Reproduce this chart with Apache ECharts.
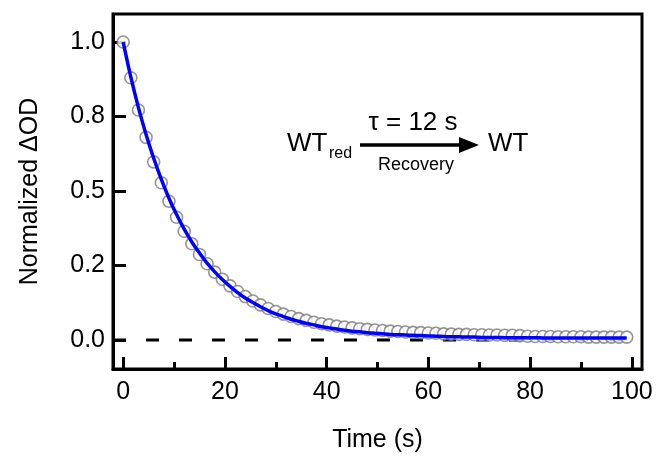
<!DOCTYPE html>
<html>
<head>
<meta charset="utf-8">
<script src="https://cdn.jsdelivr.net/npm/echarts@6/dist/echarts.min.js"></script>
<style>html,body{margin:0;padding:0;background:#fff}#c{width:657px;height:461px}</style>
</head>
<body>
<div id="c"></div>
<script>
const times = [0,1.5,3,4.5,6,7.5,9,10.5,12,13.5,15,16.5,18,19.5,21,22.5,24,25.5,27,28.5,30,31.5,33,34.5,36,37.5,39,40.5,42,43.5,45,46.5,48,49.5,51,52.5,54,55.5,57,58.5,60,61.5,63,64.5,66,67.5,69,70.5,72,73.5,75,76.5,78,79.5,81,82.5,84,85.5,87,88.5,90,91.5,93,94.5,96,97.5,99];
const observed = [1.000,0.880,0.772,0.680,0.598,0.528,0.466,0.412,0.365,0.323,0.287,0.256,0.228,0.204,0.182,0.163,0.146,0.131,0.118,0.106,0.096,0.087,0.079,0.072,0.066,0.060,0.055,0.051,0.047,0.044,0.041,0.038,0.036,0.034,0.032,0.030,0.029,0.027,0.026,0.025,0.024,0.023,0.021,0.020,0.019,0.019,0.018,0.018,0.017,0.017,0.016,0.016,0.015,0.013,0.012,0.012,0.012,0.011,0.011,0.011,0.011,0.010,0.010,0.010,0.010,0.010,0.010];
const fitted = [1.000,0.883,0.780,0.690,0.610,0.539,0.476,0.421,0.372,0.329,0.292,0.258,0.229,0.203,0.180,0.159,0.141,0.126,0.112,0.099,0.088,0.079,0.070,0.063,0.056,0.051,0.045,0.041,0.037,0.033,0.030,0.028,0.025,0.023,0.021,0.019,0.018,0.017,0.016,0.015,0.014,0.013,0.012,0.011,0.011,0.010,0.010,0.009,0.009,0.009,0.008,0.008,0.008,0.008,0.008,0.007,0.007,0.007,0.007,0.007,0.007,0.007,0.007,0.007,0.007,0.007,0.007];
const xMajorTicks = [0,20,40,60,80,100];
const xMinorTicks = [10,30,50,70,90];
const yTickValues = [0,0.25,0.5,0.75,1.0];
const yTickLabels = ["0.0","0.2","0.5","0.8","1.0"];
const zeroLine = [[-2,0],[102,0]];

const FONT = 'Liberation Sans, Arial, sans-serif';
const chart = echarts.init(document.getElementById('c'), null, {renderer:'canvas'});
const obsData = times.map((t,i)=>[t, observed[i]]);
const fitData = times.map((t,i)=>[t, fitted[i]]);

chart.setOption({
  animation:false,
  backgroundColor:'#fff',
  grid:{left:113, top:14, right:15, bottom:92, show:true, borderColor:'#000', borderWidth:3, backgroundColor:'transparent'},
  xAxis:[{
    type:'value', min:-2, max:102, position:'bottom',
    axisLine:{show:true, onZero:false, lineStyle:{color:'#000', width:3}},
    axisTick:{show:true, inside:true, length:12, customValues:xMajorTicks, lineStyle:{color:'#000', width:3}},
    axisLabel:{customValues:xMajorTicks, fontSize:25, color:'#000', margin:11, fontFamily:FONT},
    splitLine:{show:false},
    name:'Time (s)', nameLocation:'middle', nameGap:59,
    nameTextStyle:{fontSize:25, color:'#000', fontFamily:FONT}
  },{
    type:'value', min:-2, max:102, position:'top', offset:-355,
    axisLine:{show:false},
    axisTick:{show:true, inside:false, length:7, customValues:xMinorTicks, lineStyle:{color:'#000', width:3}},
    axisLabel:{show:false},
    splitLine:{show:false}
  }],
  yAxis:{
    type:'value', min:-0.097, max:1.094,
    axisLine:{show:true, onZero:false, lineStyle:{color:'#000', width:3}},
    axisTick:{show:true, inside:true, length:13, customValues:yTickValues, lineStyle:{color:'#000', width:3}},
    axisLabel:{customValues:yTickValues, fontSize:25, color:'#000', margin:8, fontFamily:FONT,
      formatter:function(v){ for(let i=0;i<yTickValues.length;i++){ if(Math.abs(yTickValues[i]-v)<1e-9) return yTickLabels[i]; } return ''; }},
    splitLine:{show:false},
    name:'Normalized \u0394OD', nameLocation:'middle', nameGap:70,
    nameTextStyle:{fontSize:25, color:'#000', fontFamily:FONT}
  },
  series:[{
    type:'line', data:zeroLine, symbol:'none', silent:true, z:1,
    lineStyle:{color:'#000', width:3, type:[13,20]}
  },{
    type:'scatter', data:obsData, symbol:'circle', symbolSize:12, z:2,
    itemStyle:{color:'#fff', borderColor:'#7a7a7a', borderWidth:1.6}
  },{
    type:'line', data:fitData, symbol:'none', smooth:0.3, z:3,
    lineStyle:{color:'#0000ff', width:3.5}
  }],
  graphic:[
    {type:'text', left:287, top:131, style:{text:'WT', font:'26px '+FONT, fill:'#000'}},
    {type:'text', left:329, top:146, style:{text:'red', font:'16px '+FONT, fill:'#000'}},
    {type:'line', shape:{x1:360, y1:145, x2:466, y2:145}, style:{stroke:'#000', lineWidth:3.5}},
    {type:'polygon', shape:{points:[[479,145],[459,137],[459,153]]}, style:{fill:'#000'}},
    {type:'text', x:413, y:123, style:{text:'\u03c4 = 12 s', font:'26px '+FONT, fill:'#000', align:'center', verticalAlign:'middle'}},
    {type:'text', x:416, y:165, style:{text:'Recovery', font:'18px '+FONT, fill:'#000', align:'center', verticalAlign:'middle'}},
    {type:'text', left:488, top:131, style:{text:'WT', font:'26px '+FONT, fill:'#000'}}
  ]
});
</script>
</body>
</html>
